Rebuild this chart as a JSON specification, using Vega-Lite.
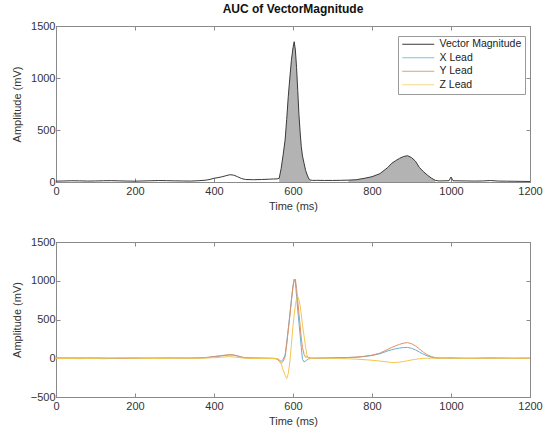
{
  "$schema": "https://vega.github.io/schema/vega-lite/v6.json",
  "padding": {"left": 10, "top": 2, "right": 8, "bottom": 2},
  "background": "white",
  "config": {
    "font": "Liberation Sans",
    "view": {"stroke": "#8a8a8a", "strokeWidth": 1},
    "axis": {
      "grid": false,
      "domainColor": "#8a8a8a",
      "tickColor": "#8a8a8a",
      "tickSize": -4,
      "labelColor": "#333333",
      "titleColor": "#333333",
      "labelFontSize": 11,
      "titleFontSize": 11,
      "titleFontWeight": "normal",
      "labelPadding": 5,
      "labelFlush": false,
      "format": "d"
    },
    "axisX": {"labelPadding": 7},
    "title": {"fontSize": 12, "fontWeight": "bold", "color": "#111111", "offset": 4},
    "concat": {"spacing": 23}
  },
  "datasets": {
    "ecg": [
      {"t": 0, "vm": 8, "x": 2, "y": 3, "z": -2},
      {"t": 20, "vm": 10, "x": 3, "y": 1, "z": -3},
      {"t": 40, "vm": 12, "x": 4, "y": -1, "z": -4},
      {"t": 60, "vm": 11, "x": 2, "y": 2, "z": -5},
      {"t": 80, "vm": 9, "x": 0, "y": 4, "z": -3},
      {"t": 100, "vm": 10, "x": -3, "y": 5, "z": -2},
      {"t": 120, "vm": 12, "x": -5, "y": 4, "z": 0},
      {"t": 140, "vm": 13, "x": -3, "y": 2, "z": 2},
      {"t": 160, "vm": 11, "x": 1, "y": 0, "z": 4},
      {"t": 180, "vm": 9, "x": 3, "y": -2, "z": 3},
      {"t": 200, "vm": 8, "x": 4, "y": -1, "z": 1},
      {"t": 220, "vm": 10, "x": 2, "y": 0, "z": -1},
      {"t": 240, "vm": 12, "x": 0, "y": 2, "z": -3},
      {"t": 260, "vm": 14, "x": -2, "y": 4, "z": -4},
      {"t": 280, "vm": 13, "x": -1, "y": 5, "z": -3},
      {"t": 300, "vm": 11, "x": 1, "y": 3, "z": -2},
      {"t": 320, "vm": 10, "x": 2, "y": 1, "z": 0},
      {"t": 340, "vm": 9, "x": 3, "y": 0, "z": 1},
      {"t": 360, "vm": 12, "x": 5, "y": 3, "z": 0},
      {"t": 380, "vm": 18, "x": 10, "y": 8, "z": 2},
      {"t": 390, "vm": 25, "x": 15, "y": 14, "z": 5},
      {"t": 400, "vm": 36, "x": 22, "y": 22, "z": 8},
      {"t": 410, "vm": 42, "x": 26, "y": 28, "z": 10},
      {"t": 420, "vm": 50, "x": 32, "y": 35, "z": 14},
      {"t": 430, "vm": 60, "x": 38, "y": 41, "z": 18},
      {"t": 440, "vm": 70, "x": 43, "y": 46, "z": 20},
      {"t": 450, "vm": 66, "x": 40, "y": 42, "z": 16},
      {"t": 460, "vm": 50, "x": 28, "y": 30, "z": 10},
      {"t": 470, "vm": 33, "x": 14, "y": 16, "z": 4},
      {"t": 480, "vm": 24, "x": 6, "y": 6, "z": 0},
      {"t": 500, "vm": 22, "x": 3, "y": 2, "z": -2},
      {"t": 520, "vm": 24, "x": 2, "y": 0, "z": -3},
      {"t": 540, "vm": 27, "x": 1, "y": -2, "z": -4},
      {"t": 550, "vm": 29, "x": 0, "y": -4, "z": -4},
      {"t": 560, "vm": 30, "x": -5, "y": -10, "z": -5},
      {"t": 565, "vm": 35, "x": -25, "y": -40, "z": -15, "auc": "QRS"},
      {"t": 570, "vm": 130, "x": -40, "y": -65, "z": -70, "auc": "QRS"},
      {"t": 575, "vm": 260, "x": -15, "y": -40, "z": -150, "auc": "QRS"},
      {"t": 580, "vm": 404, "x": 40, "y": 20, "z": -220, "auc": "QRS"},
      {"t": 584, "vm": 600, "x": 200, "y": 170, "z": -262, "auc": "QRS"},
      {"t": 588, "vm": 820, "x": 380, "y": 360, "z": -200, "auc": "QRS"},
      {"t": 592, "vm": 1000, "x": 560, "y": 540, "z": -50, "auc": "QRS"},
      {"t": 596, "vm": 1170, "x": 760, "y": 740, "z": 180, "auc": "QRS"},
      {"t": 600, "vm": 1290, "x": 940, "y": 920, "z": 420, "auc": "QRS"},
      {"t": 603, "vm": 1349, "x": 1020, "y": 1000, "z": 560, "auc": "QRS"},
      {"t": 606, "vm": 1270, "x": 990, "y": 1020, "z": 680, "auc": "QRS"},
      {"t": 609, "vm": 1100, "x": 800, "y": 900, "z": 770, "auc": "QRS"},
      {"t": 612, "vm": 880, "x": 620, "y": 740, "z": 796, "auc": "QRS"},
      {"t": 615, "vm": 650, "x": 460, "y": 580, "z": 760, "auc": "QRS"},
      {"t": 618, "vm": 480, "x": 300, "y": 420, "z": 680, "auc": "QRS"},
      {"t": 621, "vm": 340, "x": 140, "y": 260, "z": 560, "auc": "QRS"},
      {"t": 624, "vm": 250, "x": -13, "y": 140, "z": 430, "auc": "QRS"},
      {"t": 628, "vm": 180, "x": -48, "y": 50, "z": 288, "auc": "QRS"},
      {"t": 632, "vm": 110, "x": -35, "y": 12, "z": 140, "auc": "QRS"},
      {"t": 636, "vm": 67, "x": -18, "y": 22, "z": 22, "auc": "QRS"},
      {"t": 640, "vm": 30, "x": -6, "y": 10, "z": -8, "auc": "QRS"},
      {"t": 645, "vm": 18, "x": -2, "y": 3, "z": -4, "auc": "QRS"},
      {"t": 650, "vm": 15, "x": 0, "y": 1, "z": 0},
      {"t": 660, "vm": 16, "x": 0, "y": 2, "z": 2},
      {"t": 680, "vm": 15, "x": 2, "y": 3, "z": 0},
      {"t": 700, "vm": 15, "x": 4, "y": 5, "z": -2},
      {"t": 720, "vm": 16, "x": 6, "y": 7, "z": -4},
      {"t": 740, "vm": 18, "x": 9, "y": 10, "z": -7, "auc": "T"},
      {"t": 760, "vm": 22, "x": 13, "y": 14, "z": -12, "auc": "T"},
      {"t": 780, "vm": 35, "x": 22, "y": 25, "z": -18, "auc": "T"},
      {"t": 800, "vm": 51, "x": 35, "y": 40, "z": -26, "auc": "T"},
      {"t": 820, "vm": 80, "x": 58, "y": 66, "z": -36, "auc": "T"},
      {"t": 840, "vm": 140, "x": 95, "y": 115, "z": -48, "auc": "T"},
      {"t": 850, "vm": 180, "x": 110, "y": 140, "z": -56, "auc": "T"},
      {"t": 860, "vm": 205, "x": 122, "y": 160, "z": -55, "auc": "T"},
      {"t": 870, "vm": 228, "x": 132, "y": 180, "z": -50, "auc": "T"},
      {"t": 880, "vm": 245, "x": 138, "y": 195, "z": -42, "auc": "T"},
      {"t": 890, "vm": 253, "x": 140, "y": 202, "z": -32, "auc": "T"},
      {"t": 900, "vm": 235, "x": 128, "y": 188, "z": -22, "auc": "T"},
      {"t": 910, "vm": 200, "x": 108, "y": 160, "z": -14, "auc": "T"},
      {"t": 920, "vm": 140, "x": 80, "y": 120, "z": -6, "auc": "T"},
      {"t": 930, "vm": 100, "x": 52, "y": 78, "z": -2, "auc": "T"},
      {"t": 940, "vm": 67, "x": 30, "y": 45, "z": 0, "auc": "T"},
      {"t": 950, "vm": 38, "x": 14, "y": 22, "z": 1, "auc": "T"},
      {"t": 960, "vm": 16, "x": 5, "y": 8, "z": 1, "auc": "T"},
      {"t": 970, "vm": 10, "x": 2, "y": 3, "z": 0},
      {"t": 980, "vm": 11, "x": 1, "y": 2, "z": 0},
      {"t": 995, "vm": 12, "x": 2, "y": 3, "z": 1},
      {"t": 1000, "vm": 48, "x": 2, "y": 4, "z": 1},
      {"t": 1005, "vm": 12, "x": 1, "y": 3, "z": 0},
      {"t": 1020, "vm": 11, "x": 0, "y": 1, "z": -1},
      {"t": 1040, "vm": 10, "x": -1, "y": 0, "z": -2},
      {"t": 1060, "vm": 9, "x": 0, "y": -1, "z": -1},
      {"t": 1080, "vm": 10, "x": 2, "y": 0, "z": 0},
      {"t": 1100, "vm": 14, "x": 3, "y": 1, "z": 1},
      {"t": 1120, "vm": 9, "x": 1, "y": 2, "z": 0},
      {"t": 1140, "vm": 8, "x": 0, "y": 1, "z": -1},
      {"t": 1160, "vm": 7, "x": -1, "y": 0, "z": -1},
      {"t": 1180, "vm": 6, "x": 0, "y": 1, "z": 0},
      {"t": 1200, "vm": 5, "x": 1, "y": 0, "z": 0}
    ]
  },
  "resolve": {"scale": {"color": "independent"}},
  "vconcat": [
    {
      "title": {"text": "AUC of VectorMagnitude"},
      "width": 474,
      "height": 156,
      "data": {"name": "ecg"},
      "layer": [
        {
          "transform": [{"filter": "isValid(datum.auc)"}],
          "mark": {"type": "area", "color": "#b3b3b3", "opacity": 1},
          "encoding": {
            "x": {"field": "t", "type": "quantitative", "scale": {"domain": [0, 1200], "nice": false},
                  "axis": {"orient": "bottom", "values": [0, 200, 400, 600, 800, 1000, 1200], "title": "Time (ms)", "titlePadding": 4}},
            "y": {"field": "vm", "type": "quantitative", "stack": null, "scale": {"domain": [0, 1500], "nice": false},
                  "axis": {"orient": "left", "values": [0, 500, 1000, 1500], "title": "Amplitude (mV)", "titlePadding": 8}},
            "detail": {"field": "auc"}
          }
        },
        {
          "mark": {"type": "line", "strokeWidth": 1, "interpolate": "linear"},
          "encoding": {
            "x": {"field": "t", "type": "quantitative",
                  "axis": {"orient": "top", "values": [0, 200, 400, 600, 800, 1000, 1200], "labels": false, "title": null}},
            "y": {"field": "vm", "type": "quantitative",
                  "axis": {"orient": "right", "values": [0, 500, 1000, 1500], "labels": false, "title": null}},
            "color": {
              "datum": "Vector Magnitude",
              "scale": {"domain": ["Vector Magnitude", "X Lead", "Y Lead", "Z Lead"], "range": ["#3a3a3a", "#7cc3d8", "#d6a37a", "#f3d98a"]},
              "legend": {
                "title": null, "orient": "none", "legendX": 342, "legendY": 10,
                "strokeColor": "#9a9a9a", "fillColor": "white", "padding": 3,
                "symbolType": "M-1,0H7", "symbolSize": 64, "symbolStrokeWidth": 1,
                "labelFontSize": 10.5, "labelColor": "#222222", "labelOffset": 28, "rowPadding": 2.5
              }
            }
          }
        }
      ],
      "resolve": {"axis": {"x": "independent", "y": "independent"}}
    },
    {
      "width": 474,
      "height": 155,
      "data": {"name": "ecg"},
      "layer": [
        {
          "mark": {"type": "line", "strokeWidth": 1, "color": "#6aaed6"},
          "encoding": {
            "x": {"field": "t", "type": "quantitative", "scale": {"domain": [0, 1200], "nice": false},
                  "axis": {"orient": "bottom", "values": [0, 200, 400, 600, 800, 1000, 1200], "title": "Time (ms)", "titlePadding": 4}},
            "y": {"field": "x", "type": "quantitative", "scale": {"domain": [-500, 1500], "nice": false},
                  "axis": {"orient": "left", "values": [-500, 0, 500, 1000, 1500], "title": "Amplitude (mV)", "titlePadding": 8}}
          }
        },
        {
          "mark": {"type": "line", "strokeWidth": 1, "color": "#de9168"},
          "encoding": {
            "x": {"field": "t", "type": "quantitative",
                  "axis": {"orient": "top", "values": [0, 200, 400, 600, 800, 1000, 1200], "labels": false, "title": null}},
            "y": {"field": "y", "type": "quantitative",
                  "axis": {"orient": "right", "values": [-500, 0, 500, 1000, 1500], "labels": false, "title": null}}
          }
        },
        {
          "mark": {"type": "line", "strokeWidth": 1, "color": "#f2c654"},
          "encoding": {
            "x": {"field": "t", "type": "quantitative", "axis": null},
            "y": {"field": "z", "type": "quantitative", "axis": null}
          }
        }
      ],
      "resolve": {"axis": {"x": "independent", "y": "independent"}}
    }
  ]
}
